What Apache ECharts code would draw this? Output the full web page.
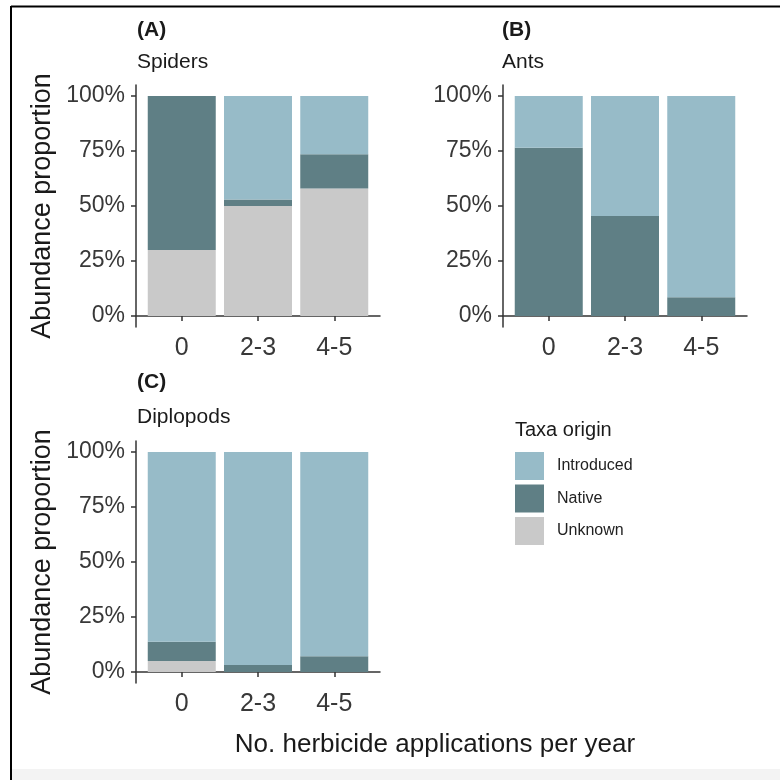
<!DOCTYPE html>
<html>
<head>
<meta charset="utf-8">
<script src="https://cdn.jsdelivr.net/npm/echarts@6/dist/echarts.min.js"></script>
<style>html,body{margin:0;padding:0;background:#fff;}#c{width:780px;height:780px;}</style>
</head>
<body>
<div id="c"></div>
<script>
// ---- data ----
const categories = ['0', '2-3', '4-5'];
const catPositions = [1, 2, 3];
const originNames = ['Introduced', 'Native', 'Unknown'];

const spidersUnknown    = [0.30, 0.50, 0.58];
const spidersNative     = [0.70, 0.03, 0.155];
const spidersIntroduced = [0.00, 0.47, 0.265];

const antsUnknown    = [0.00, 0.00, 0.00];
const antsNative     = [0.765, 0.455, 0.085];
const antsIntroduced = [0.235, 0.545, 0.915];

const diplopodsUnknown    = [0.05, 0.00, 0.00];
const diplopodsNative     = [0.087, 0.032, 0.072];
const diplopodsIntroduced = [0.863, 0.968, 0.928];

const yTickValues = [0, 0.25, 0.5, 0.75, 1];
const yTickLabels = ['0%', '25%', '50%', '75%', '100%'];

const panelLetters = ['(A)', '(B)', '(C)'];
const panelTaxa = ['Spiders', 'Ants', 'Diplopods'];
const yTitle = 'Abundance proportion';
const xTitle = 'No. herbicide applications per year';
const legendTitle = 'Taxa origin';

// ---- styling ----
const colors = { Introduced: '#97bbc8', Native: '#5f7f85', Unknown: '#c9c9c9' };
const axisColor = '#333333';
const tickTextColor = '#383838';
const FONT = 'Liberation Sans, Arial, Helvetica, sans-serif';

const grids = [
  { left: 136, top: 85, width: 244, height: 242 },
  { left: 503, top: 85, width: 244, height: 242 },
  { left: 136, top: 441, width: 244, height: 242 }
];

const panelData = [
  { Unknown: spidersUnknown, Native: spidersNative, Introduced: spidersIntroduced },
  { Unknown: antsUnknown, Native: antsNative, Introduced: antsIntroduced },
  { Unknown: diplopodsUnknown, Native: diplopodsNative, Introduced: diplopodsIntroduced }
];

const xAxes = [], yAxes = [], series = [];
grids.forEach((g, i) => {
  xAxes.push({
    type: 'value', gridIndex: i, min: 0.4, max: 3.6,
    axisLine: { show: true, lineStyle: { color: axisColor, width: 1.5 } },
    axisTick: { show: true, customValues: catPositions, length: 5, lineStyle: { color: axisColor, width: 1.5 } },
    axisLabel: {
      customValues: catPositions, margin: 9,
      formatter: v => categories[Math.round(v) - 1] || '',
      fontSize: 25, color: tickTextColor, fontFamily: FONT
    },
    splitLine: { show: false }
  });
  yAxes.push({
    type: 'value', gridIndex: i, min: -0.05, max: 1.05,
    name: i === 1 ? '' : yTitle,
    nameLocation: 'middle', nameGap: 80, nameRotate: 90,
    nameTextStyle: { fontSize: 27, color: '#1a1a1a', fontFamily: FONT },
    axisLine: { show: true, lineStyle: { color: axisColor, width: 1.5 } },
    axisTick: { show: true, customValues: yTickValues, length: 5, lineStyle: { color: axisColor, width: 1.5 } },
    axisLabel: {
      customValues: yTickValues, margin: 11,
      formatter: v => { const k = yTickValues.findIndex(t => Math.abs(t - v) < 1e-6); return k >= 0 ? yTickLabels[k] : ''; },
      fontSize: 23, color: tickTextColor, fontFamily: FONT
    },
    splitLine: { show: false }
  });
  ['Unknown', 'Native', 'Introduced'].forEach(name => {
    series.push({
      type: 'bar', name: name, xAxisIndex: i, yAxisIndex: i, stack: 'p' + i,
      barWidth: 68,
      itemStyle: { color: colors[name] },
      emphasis: { disabled: true },
      // value first so the library stacks along the y dimension
      dimensions: ['share', 'group'],
      encode: { x: 1, y: 0 },
      data: catPositions.map((p, j) => [panelData[i][name][j], p])
    });
  });
});

const titles = [];
const titlePos = [
  { left: 137, topA: 19.5, topB: 51.5 },
  { left: 502, topA: 19.5, topB: 51.5 },
  { left: 137, topA: 371.5, topB: 406.5 }
];
titlePos.forEach((p, i) => {
  titles.push({ text: panelLetters[i], left: p.left, top: p.topA, padding: 0,
    textStyle: { fontSize: 21, fontWeight: 'bold', color: '#1a1a1a', fontFamily: FONT } });
  titles.push({ text: panelTaxa[i], left: p.left, top: p.topB, padding: 0,
    textStyle: { fontSize: 21, fontWeight: 'normal', color: '#1a1a1a', fontFamily: FONT } });
});
titles.push({ text: xTitle, left: 435, top: 732, textAlign: 'center', padding: 0,
  textStyle: { fontSize: 26, fontWeight: 'normal', color: '#1a1a1a', fontFamily: FONT } });
titles.push({ text: legendTitle, left: 515, top: 420, padding: 0,
  textStyle: { fontSize: 20, fontWeight: 'normal', color: '#1a1a1a', fontFamily: FONT } });

const option = {
  backgroundColor: '#ffffff',
  animation: false,
  title: titles,
  legend: {
    data: originNames, orient: 'vertical', left: 515, top: 452, padding: 0,
    icon: 'rect', itemWidth: 29, itemHeight: 28, itemGap: 4.5,
    selectedMode: false,
    textStyle: { fontSize: 16, color: '#222', fontFamily: FONT, padding: [0, 0, 0, 8] }
  },
  grid: grids.map(g => Object.assign({ containLabel: false }, g)),
  xAxis: xAxes,
  yAxis: yAxes,
  series: series,
  graphic: [
    { type: 'rect', silent: true, z: -1, shape: { x: 12, y: 769, width: 780, height: 12 }, style: { fill: '#f3f3f3' } },
    { type: 'line', silent: true, shape: { x1: 11, y1: 6.5, x2: 780, y2: 6.5 }, style: { stroke: '#000', lineWidth: 2 } },
    { type: 'line', silent: true, shape: { x1: 11, y1: 6, x2: 11, y2: 780 }, style: { stroke: '#000', lineWidth: 2 } }
  ]
};

const chart = echarts.init(document.getElementById('c'), null, { renderer: 'canvas' });
chart.setOption(option);
</script>
</body>
</html>
